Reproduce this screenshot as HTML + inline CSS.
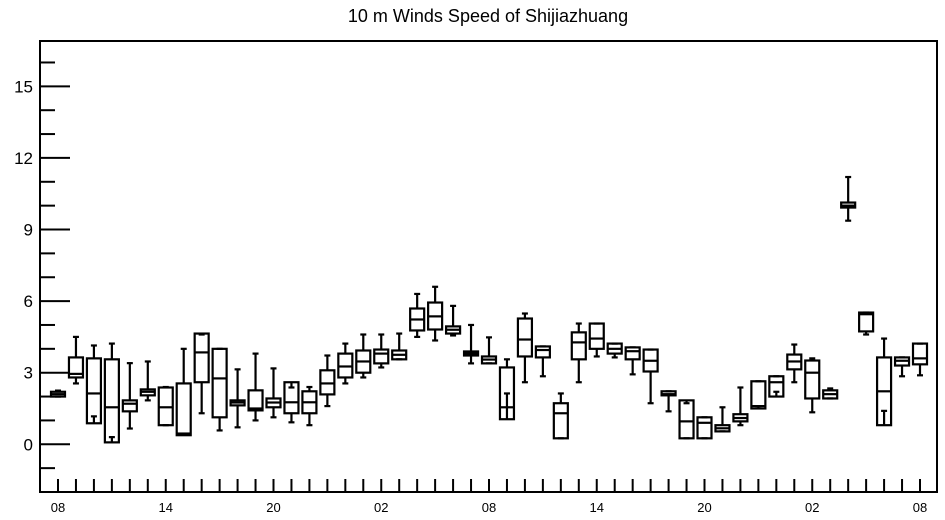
<!DOCTYPE html>
<html><head><meta charset="utf-8"><style>
html,body{margin:0;padding:0;background:#fff}
svg{display:block;font-family:"Liberation Sans",sans-serif}
</style></head><body>
<svg id="chart" width="945" height="520" viewBox="0 0 945 520" xmlns="http://www.w3.org/2000/svg">
<text x="488" y="22" text-anchor="middle" font-size="18">10 m Winds Speed of Shijiazhuang</text>
<g id="marks"></g>
<g id="axes"></g>
</svg>
<script>
const mins = [2.0,2.55,1.17,0.3,0.66,1.84,0.8,0.4,1.3,0.58,0.71,1.0,1.13,0.92,0.8,1.6,2.55,2.8,3.22,3.56,4.5,4.35,4.56,3.39,3.39,2.13,2.6,2.85,0.25,2.6,3.68,3.64,2.93,1.72,1.38,0.25,0.25,0.54,0.8,1.6,2.2,2.6,1.34,1.92,9.37,4.6,1.4,2.85,2.89];
const q1s = [2.0,2.8,0.88,0.08,1.38,2.05,0.8,0.38,2.6,1.13,1.63,1.42,1.55,1.3,1.3,2.09,2.8,3.0,3.39,3.56,4.77,4.81,4.64,3.72,3.39,1.05,3.68,3.64,0.25,3.56,4.0,3.8,3.56,3.05,2.05,0.25,0.25,0.54,0.96,1.5,2.0,3.14,1.92,1.92,9.92,4.73,0.8,3.3,3.35];
const medians = [2.1,2.95,2.13,1.55,1.7,2.2,1.55,0.45,3.85,2.76,1.75,1.5,1.75,1.76,1.76,2.55,3.26,3.47,3.8,3.75,5.23,5.36,4.8,3.8,3.55,1.55,4.39,3.95,1.3,4.27,4.43,4.0,3.9,3.5,2.1,0.96,0.9,0.67,1.1,1.6,2.6,3.47,3.0,2.1,10.0,5.45,2.22,3.5,3.6];
const q3s = [2.2,3.64,3.6,3.56,1.84,2.3,2.38,2.55,4.64,4.0,1.84,2.26,1.92,2.6,2.22,3.1,3.8,3.93,3.97,3.93,5.69,5.94,4.94,3.89,3.68,3.22,5.27,4.1,1.72,4.69,5.06,4.22,4.06,3.97,2.22,1.84,1.13,0.8,1.26,2.64,2.85,3.76,3.51,2.26,10.13,5.52,3.64,3.64,4.22];
const maxs = [2.25,4.5,4.14,4.22,3.4,3.47,2.4,4.0,4.6,4.0,3.14,3.8,3.18,2.38,2.4,3.72,4.22,4.6,4.6,4.64,6.3,6.6,5.8,5.0,4.48,3.56,5.48,4.1,2.13,5.06,5.06,4.22,4.06,3.97,2.22,1.72,1.13,1.55,2.38,2.64,2.85,4.18,3.6,2.34,11.2,5.52,4.43,3.64,4.22];
const xTickLabels = ["08","14","20","02","08","14","20","02","08"];
const yTicks = [0,3,6,9,12,15];

const NS="http://www.w3.org/2000/svg";
const L=40,R=937,T=41,B=492;
const yMin=-2,yMax=16.9;
function y(v){return B-(v-yMin)/(yMax-yMin)*(B-T);}
function x(i){return 58+i*(920-58)/48;}
function mk(tag,attrs,parent){const e=document.createElementNS(NS,tag);for(const k in attrs)e.setAttribute(k,attrs[k]);parent.appendChild(e);return e;}
const marks=document.getElementById('marks'),axes=document.getElementById('axes');
const st={stroke:'#000','stroke-width':2.2,fill:'none'};
for(let i=0;i<medians.length;i++){
  const g=document.createElementNS(NS,'g');
  
  
  marks.appendChild(g);
  const cx=x(i),w=14;
  mk('rect',Object.assign({x:cx-w/2,y:y(q3s[i]),width:w,height:Math.max(1,y(q1s[i])-y(q3s[i]))},st),g);
  mk('line',Object.assign({x1:cx-w/2,x2:cx+w/2,y1:y(medians[i]),y2:y(medians[i])},st),g);
  mk('line',Object.assign({x1:cx,x2:cx,y1:y(q3s[i]),y2:y(maxs[i])},st),g);
  mk('line',Object.assign({x1:cx,x2:cx,y1:y(q1s[i]),y2:y(mins[i])},st),g);
  mk('line',Object.assign({x1:cx-3,x2:cx+3,y1:y(maxs[i]),y2:y(maxs[i])},st),g);
  mk('line',Object.assign({x1:cx-3,x2:cx+3,y1:y(mins[i]),y2:y(mins[i])},st),g);
}
mk('rect',{x:L,y:T,width:R-L,height:B-T,fill:'none',stroke:'#000','stroke-width':2},axes);
for(let v=-1;v<=16;v++){
  const major=yTicks.includes(v);
  mk('line',{x1:L,x2:L+(major?30:15),y1:y(v),y2:y(v),stroke:'#000','stroke-width':2},axes);
}
yTicks.forEach(v=>{
  const t=mk('text',{x:33,y:y(v)+6,'text-anchor':'end','font-size':17},axes);
  t.textContent=v;
  
  
});
for(let i=0;i<=48;i++){
  mk('line',{x1:x(i),x2:x(i),y1:B,y2:B-13,stroke:'#000','stroke-width':2},axes);
}
xTickLabels.forEach((s,k)=>{
  const t=mk('text',{x:x(k*6),y:512,'text-anchor':'middle','font-size':13},axes);
  t.textContent=s;
  
  
});
</script>
</body></html>
